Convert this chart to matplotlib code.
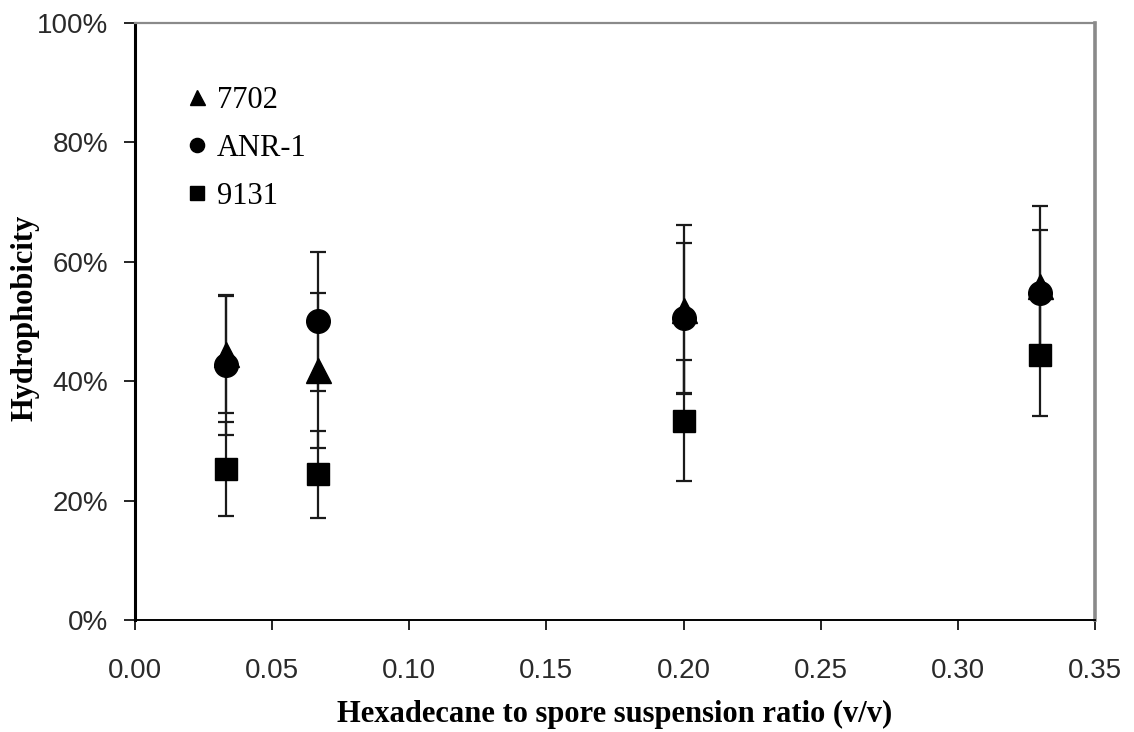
import matplotlib.pyplot as plt
from matplotlib.ticker import PercentFormatter

# hexadecane : spore suspension ratio
ratios = [1 / 30, 1 / 15, 0.20, 0.33]

strains = ["7702", "ANR-1", "9131"]
hydro_7702 = [44.5, 41.8, 52.0, 56.0]
err_7702 = [9.8, 13.0, 14.2, 13.3]
hydro_anr1 = [42.7, 50.0, 50.6, 54.7]
err_anr1 = [11.7, 11.7, 12.6, 10.7]
hydro_9131 = [25.3, 24.4, 33.4, 44.4]
err_9131 = [7.9, 7.3, 10.1, 10.2]

y_ticks = [0, 20, 40, 60, 80, 100]
x_ticks = [0.00, 0.05, 0.10, 0.15, 0.20, 0.25, 0.30, 0.35]


def plot_series(ax, y, err, marker, size, label):
    """one strain with its error bars"""
    ax.errorbar(ratios, y, yerr=err, fmt=marker, color="black", ms=size,
                ecolor="#1a1a1a", elinewidth=1.6, capsize=6, capthick=1.6,
                label=label, zorder=3)


def main():
    fig = plt.figure(figsize=(11.34, 7.32), dpi=100)
    ax = fig.add_axes([0.119, 0.153, 0.8466, 0.8156])

    plot_series(ax, hydro_7702, err_7702, "^", 18, strains[0])
    plot_series(ax, hydro_anr1, err_anr1, "o", 17, strains[1])
    plot_series(ax, hydro_9131, err_9131, "s", 16, strains[2])

    ax.set_xlim(0, 0.35)
    ax.set_ylim(0, 100)
    ax.set_xticks(x_ticks)
    ax.set_xticklabels([f"{v:.2f}" for v in x_ticks])
    ax.set_yticks(y_ticks)
    ax.yaxis.set_major_formatter(PercentFormatter(100, decimals=0))

    for lab in ax.get_xticklabels() + ax.get_yticklabels():
        lab.set_fontfamily("Liberation Sans")
        lab.set_fontsize(20)
        lab.set_color("#2a2a2a")
    ax.tick_params(axis="y", direction="out", length=8, width=1.2, pad=11)
    ax.tick_params(axis="x", direction="out", length=7, width=1.2, pad=20)

    ax.spines["left"].set_linewidth(2.2)
    ax.spines["bottom"].set_linewidth(1.4)
    ax.spines["top"].set_color("#8a8a8a")
    ax.spines["top"].set_linewidth(1.6)
    ax.spines["right"].set_color("#8a8a8a")
    ax.spines["right"].set_linewidth(2.6)

    label_font = {"family": "Liberation Serif", "weight": "bold", "size": 22}
    ax.set_xlabel("Hexadecane to spore suspension ratio (v/v)", fontdict=label_font, labelpad=12)
    ax.set_ylabel("Hydrophobicity", fontdict=label_font)
    ax.yaxis.set_label_coords(-0.099, 0.506)

    handles, labels = ax.get_legend_handles_labels()
    handles = [h[0] for h in handles]
    ax.legend(handles, labels, loc="upper left", bbox_to_anchor=(0.052, 0.895),
              frameon=False, markerscale=0.6, handlelength=0.8,
              handletextpad=0.25, labelspacing=0.62, borderpad=0,
              borderaxespad=0, prop={"family": "Liberation Serif", "size": 22})

    fig.savefig("out.png", dpi=100)


if __name__ == "__main__":
    main()
